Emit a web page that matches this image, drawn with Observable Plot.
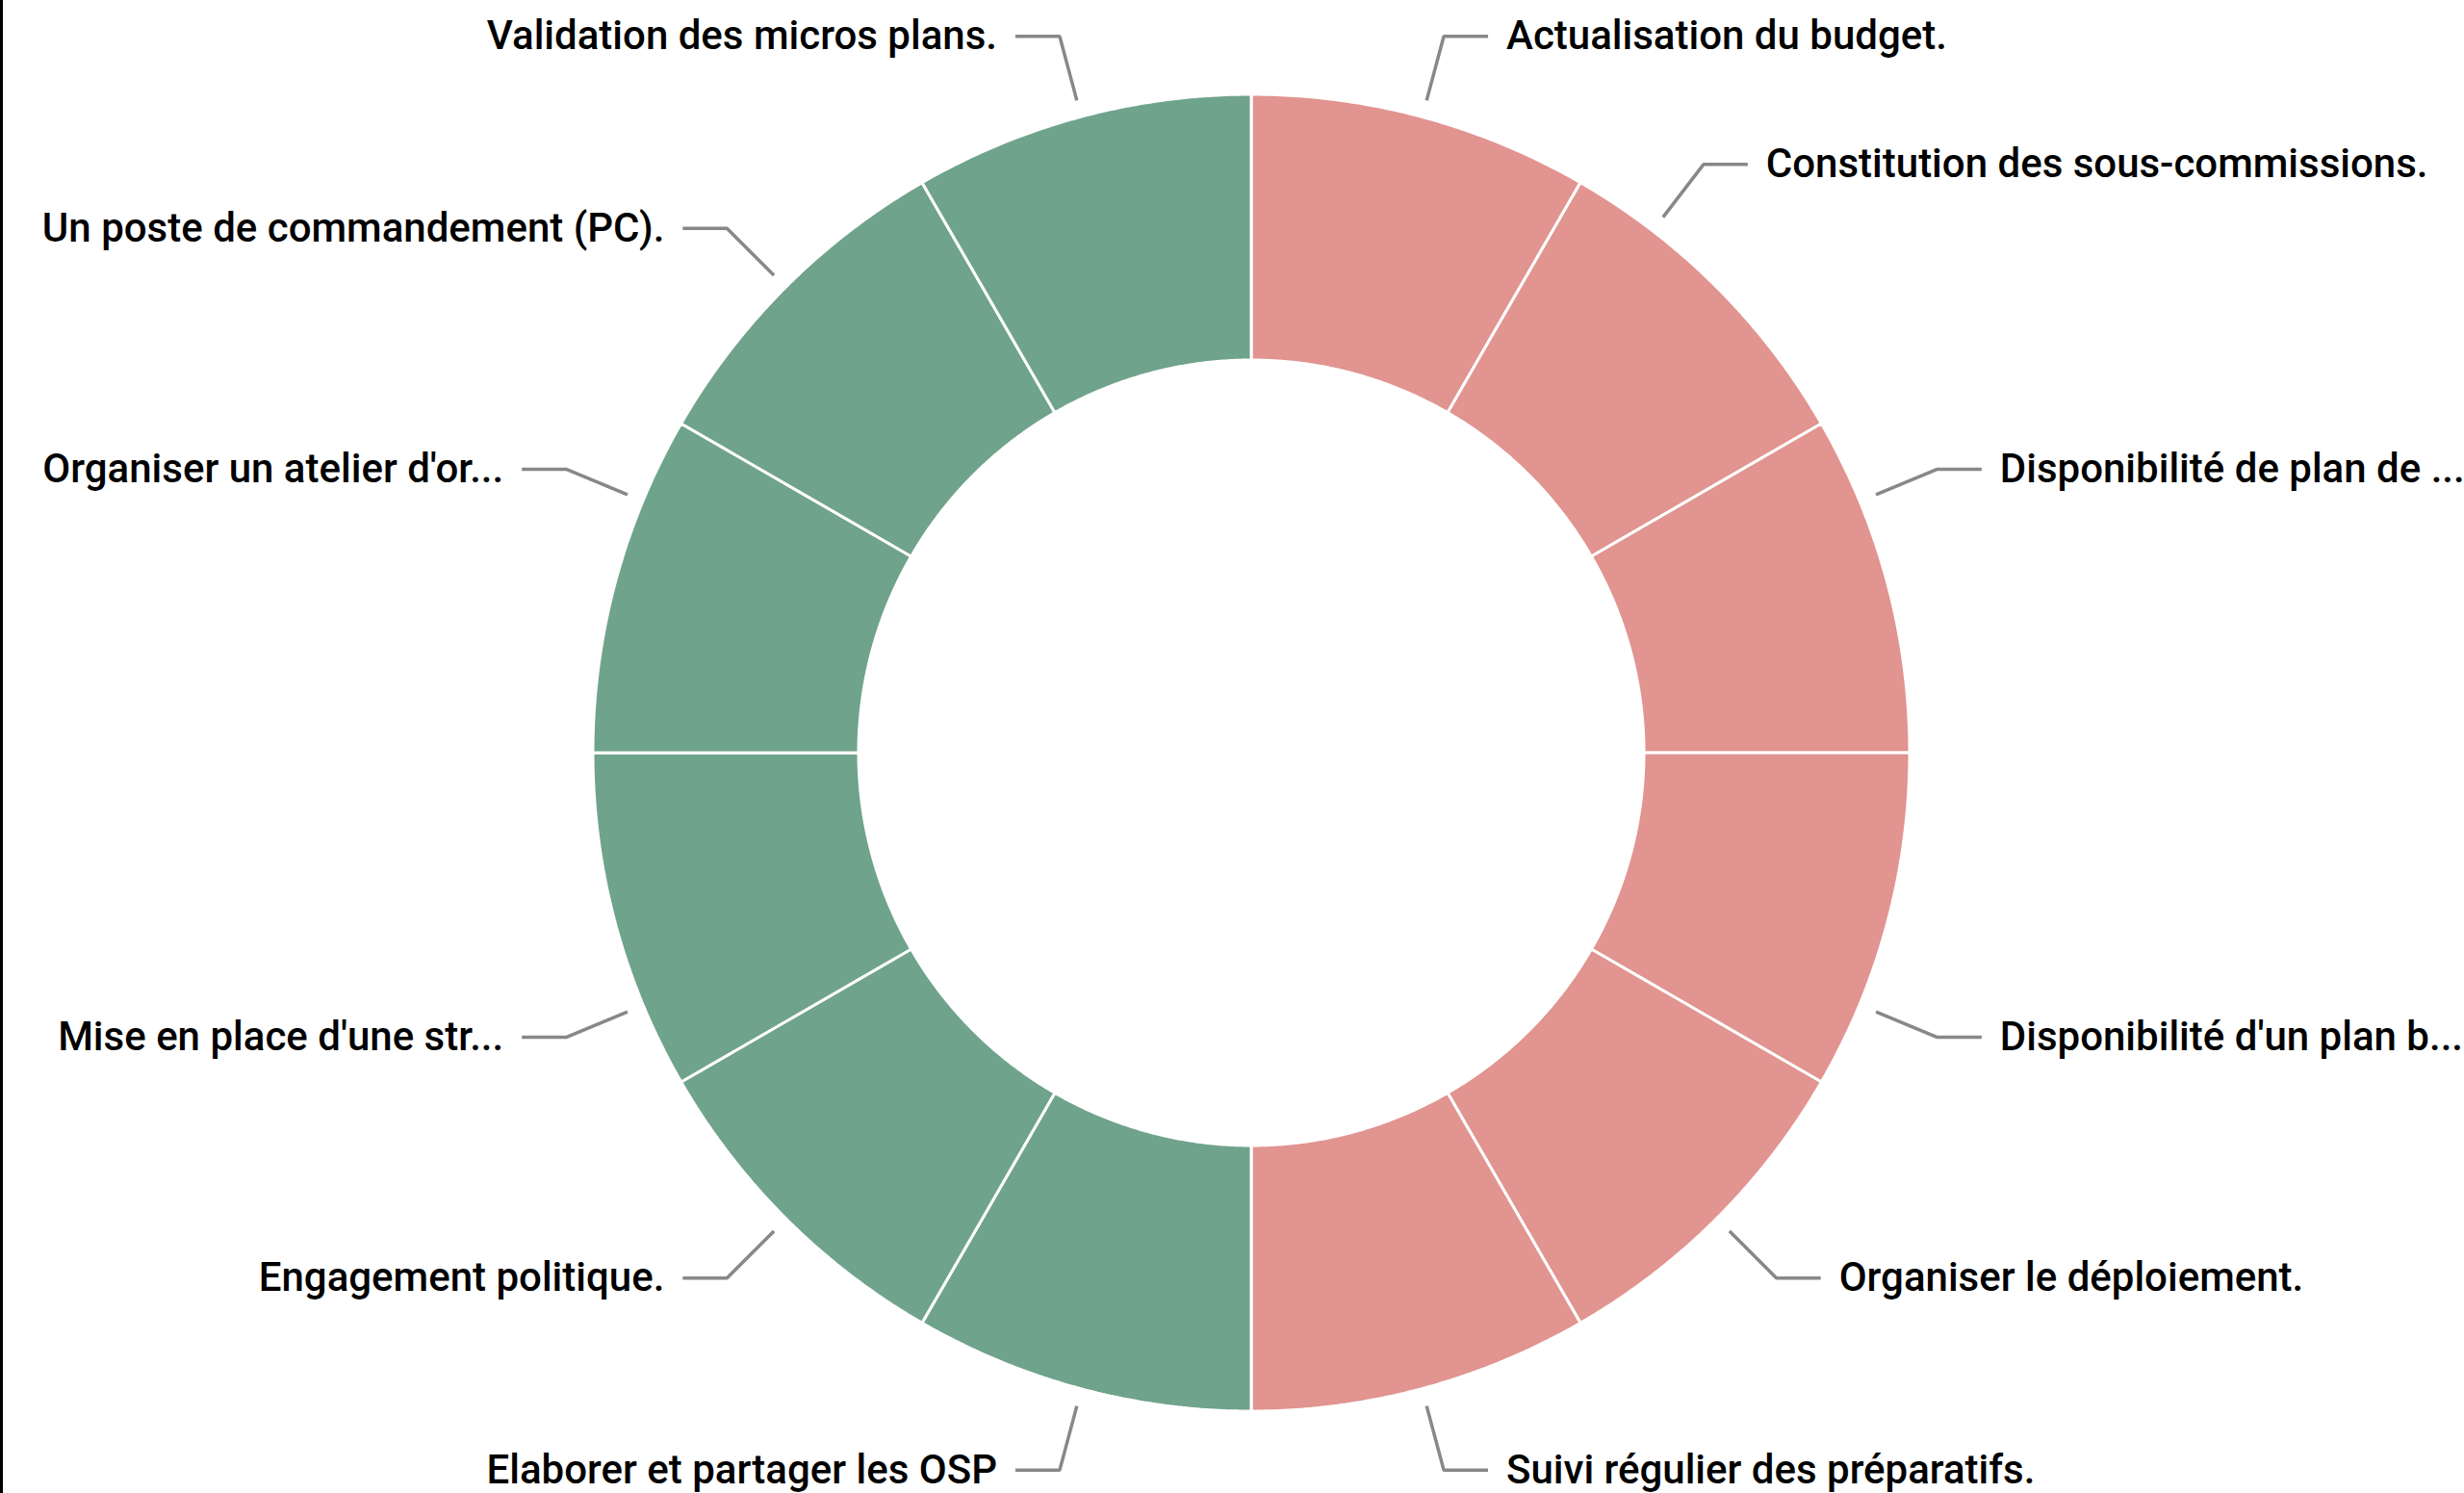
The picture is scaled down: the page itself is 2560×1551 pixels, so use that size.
<!DOCTYPE html>
<html><head><meta charset="utf-8">
<script src="https://cdn.jsdelivr.net/npm/d3@7"></script>
<script src="https://cdn.jsdelivr.net/npm/@observablehq/plot@0.6"></script>
<style>
html,body{margin:0;padding:0;background:#fff;overflow:hidden}
#chart{position:relative;width:2560px;height:1551px}
#edge{position:absolute;left:0;top:0;width:3px;height:1551px;background:#000}
</style></head><body><div id="chart"><div id="edge"></div></div>
<script>
// ---- data ----
const labels = [
  "Actualisation du budget.",
  "Constitution des sous-commissions.",
  "Disponibilité de plan de ...",
  "Disponibilité d'un plan b...",
  "Organiser le déploiement.",
  "Suivi régulier des préparatifs.",
  "Elaborer et partager les OSP",
  "Engagement politique.",
  "Mise en place d'une str...",
  "Organiser un atelier d'or...",
  "Un poste de commandement (PC).",
  "Validation des micros plans."
];
const values = [1, 1, 1, 1, 1, 1, 1, 1, 1, 1, 1, 1];
const groups = ["A", "A", "A", "A", "A", "A", "B", "B", "B", "B", "B", "B"];
const groupNames = ["A", "B"];

// ---- layout & style ----
const W = 2560, H = 1551;
const cx = 1300, cy = 782, rOuter = 684, rInner = 408;
const rLeadStart = 702, rLeadElbow = 771, leadRun = 46, textGap = 19;
const labelShiftDeg = [0, -7.5, -7.5, 7.5, 0, 0, 0, 0, -7.5, 7.5, 0, 0];
const groupColors = ["#e19490", "#70a38b"];
const font = "Roboto, 'DejaVu Sans', sans-serif";

const arcs = d3.pie().sort(null)(values);
const pt = (r, a) => [cx + r * Math.sin(a), cy - r * Math.cos(a)];

const ringRows = [];
arcs.forEach((a, i) => {
  const n = 80;
  for (let k = 0; k <= n; k++) {
    const t = a.startAngle + (a.endAngle - a.startAngle) * k / n;
    const [x1, y1] = pt(rOuter, t), [x2, y2] = pt(rInner, t);
    ringRows.push({slice: i, group: groups[i], x1, y1, x2, y2});
  }
});

const leaderRows = [], labelRows = [];
arcs.forEach((a, i) => {
  const mid = (a.startAngle + a.endAngle) / 2 + labelShiftDeg[i] * Math.PI / 180;
  const right = Math.sin(mid) >= 0;
  const s = pt(rLeadStart, mid), e = pt(rLeadElbow, mid);
  const endX = e[0] + (right ? leadRun : -leadRun);
  leaderRows.push({slice: i, x: s[0], y: s[1]}, {slice: i, x: e[0], y: e[1]}, {slice: i, x: endX, y: e[1]});
  labelRows.push({text: labels[i], right, x: endX + (right ? textGap : -textGap), y: e[1]});
});

const textOpts = {x: "x", y: "y", text: "text", lineAnchor: "middle", fontSize: 42, fontWeight: 500, fontFamily: font, fill: "#000"};

const chart = Plot.plot({
  width: W, height: H,
  margin: 0,
  x: {domain: [0, W], range: [0, W], axis: null},
  y: {domain: [0, H], range: [0, H], axis: null},
  color: {domain: groupNames, range: groupColors},
  style: {background: "transparent"},
  marks: [
    Plot.area(ringRows, {x1: "x1", y1: "y1", x2: "x2", y2: "y2", z: "slice", fill: "group", stroke: "#ffffff", strokeWidth: 3, strokeLinejoin: "miter"}),
    Plot.line(leaderRows, {x: "x", y: "y", z: "slice", stroke: "#888888", strokeWidth: 3.5, strokeLinejoin: "miter", strokeLinecap: "butt"}),
    Plot.text(labelRows.filter(d => d.right), {...textOpts, textAnchor: "start"}),
    Plot.text(labelRows.filter(d => !d.right), {...textOpts, textAnchor: "end"})
  ]
});
document.getElementById("chart").appendChild(chart);
</script>
</body></html>
